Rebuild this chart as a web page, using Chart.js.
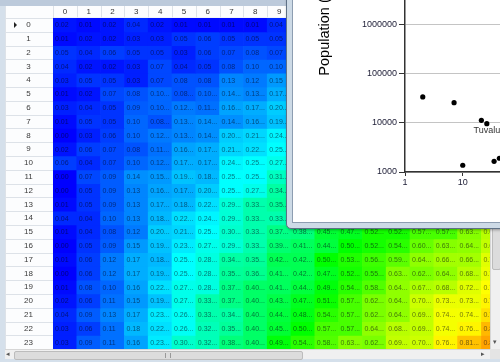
<!DOCTYPE html>
<html>
<head>
<meta charset="utf-8">
<script src="https://cdn.jsdelivr.net/npm/chart.js@4.4.1/dist/chart.umd.min.js"></script>
<style>
  html, body { margin: 0; padding: 0; width: 500px; height: 362px; overflow: hidden; background: #d5e0eb; }
  #topBand { position: absolute; left: 0; top: 0; width: 500px; height: 6px; background: #bccadb; }
  #gridWrap { position: absolute; left: 0; top: 0; width: 510px; height: 350px; }
  #hscroll { position: absolute; left: 5px; top: 349px; width: 485px; height: 10px; background: #f0f0f0; border-top: 1px solid #d6d6d6; box-sizing: border-box; }
  #hthumb { position: absolute; left: 9px; top: 1px; width: 287px; height: 7px; background: #dcdcdc; border: 1px solid #bcbcbc; border-radius: 2px; }
  #hgrip { position: absolute; left: 150px; top: 1px; width: 6px; height: 5px; border-left: 1px solid #999; border-right: 1px solid #999; box-sizing: border-box; }
  .arrow { position: absolute; font: 7px "DejaVu Sans", sans-serif; color: #555; line-height: 8px; }
  #vscroll { position: absolute; left: 490px; top: 0; width: 10px; height: 349px; background: #f0f0f0; border-left: 1px solid #d6d6d6; box-sizing: border-box; }
  #vthumb { position: absolute; left: 1px; top: 150px; width: 9px; height: 120px; background: #dcdcdc; border: 1px solid #bcbcbc; border-radius: 2px; box-sizing: border-box; }
  #corner { position: absolute; left: 490px; top: 349px; width: 10px; height: 10px; background: #e4e4e4; }
  #win { position: absolute; left: 286px; top: -40px; width: 260px; height: 267px; border: 1px solid #5f7186; background: #cddae6;
         border-bottom-left-radius: 5px; box-shadow: 1px 1px 3px rgba(0,0,0,0.35); overflow: hidden; }
  #client { position: absolute; left: 5px; top: 0; right: 0; bottom: 5px; background: #fff;
            border-left: 1px solid #8d9db1; border-bottom: 1px solid #8d9db1; overflow: hidden; }
  #scatter { position: absolute; left: 0; top: -151px; }
</style>
</head>
<body>
<div id="topBand"></div>
<div id="gridWrap"><canvas id="grid" width="510" height="350"></canvas></div>
<div id="hscroll">
  <div class="arrow" style="left:1px;top:0px;">◂</div>
  <div id="hthumb"><div id="hgrip"></div></div>
  <div class="arrow" style="left:476px;top:0px;">▸</div>
</div>
<div id="vscroll">
  <div id="vthumb"></div>
  <div class="arrow" style="left:2px;top:338px;">▾</div>
</div>
<div id="corner"></div>
<div id="win">
  <div id="client"><canvas id="scatter" width="584" height="412"></canvas></div>
</div>

<script>
// ---- grid contents ----
const colLabels = ['0','1','2','3','4','5','6','7','8','9','10','11','12','13','14','15','16','17','18'];
const rowLabels = ['0','1','2','3','4','5','6','7','8','9','10','11','12','13','14','15','16','17','18','19','20','21','22','23'];

const r0  = [0.02, 0.01, 0.02, 0.04, 0.02, 0.01, 0.01, 0.01, 0.01, 0.04];
const r1  = [0.01, 0.02, 0.02, 0.03, 0.03, 0.05, 0.06, 0.05, 0.05, 0.05];
const r2  = [0.05, 0.04, 0.06, 0.05, 0.05, 0.03, 0.06, 0.07, 0.08, 0.07];
const r3  = [0.04, 0.02, 0.02, 0.03, 0.07, 0.04, 0.05, 0.08, 0.10, 0.10];
const r4  = [0.03, 0.05, 0.05, 0.03, 0.07, 0.08, 0.08, 0.13, 0.12, 0.15];
const r5  = [0.01, 0.02, 0.07, 0.08, 0.10, 0.08, 0.10, 0.14, 0.13, 0.17];
const r6  = [0.03, 0.04, 0.05, 0.09, 0.10, 0.12, 0.11, 0.16, 0.17, 0.20];
const r7  = [0.01, 0.05, 0.05, 0.10, 0.08, 0.13, 0.14, 0.14, 0.16, 0.19];
const r8  = [0.00, 0.03, 0.06, 0.10, 0.12, 0.13, 0.14, 0.20, 0.21, 0.24];
const r9  = [0.02, 0.06, 0.07, 0.08, 0.11, 0.16, 0.17, 0.21, 0.22, 0.25];
const r10 = [0.06, 0.04, 0.07, 0.10, 0.12, 0.17, 0.17, 0.24, 0.25, 0.27];
const r11 = [0.00, 0.07, 0.09, 0.14, 0.15, 0.19, 0.18, 0.25, 0.25, 0.31];
const r12 = [0.00, 0.05, 0.09, 0.13, 0.16, 0.17, 0.20, 0.25, 0.27, 0.34];
const r13 = [0.01, 0.05, 0.09, 0.13, 0.17, 0.18, 0.22, 0.29, 0.33, 0.35];
const r14 = [0.04, 0.04, 0.10, 0.13, 0.18, 0.22, 0.24, 0.29, 0.33, 0.33];
const r15 = [0.01, 0.04, 0.08, 0.12, 0.20, 0.21, 0.25, 0.30, 0.33, 0.37, 0.38, 0.45, 0.47, 0.52, 0.52, 0.57, 0.57, 0.63, 0.68];
const r16 = [0.00, 0.05, 0.09, 0.15, 0.19, 0.23, 0.27, 0.29, 0.33, 0.39, 0.41, 0.44, 0.50, 0.52, 0.54, 0.60, 0.63, 0.64, 0.69];
const r17 = [0.01, 0.06, 0.12, 0.17, 0.18, 0.25, 0.28, 0.34, 0.35, 0.42, 0.42, 0.50, 0.53, 0.56, 0.59, 0.64, 0.66, 0.66, 0.72];
const r18 = [0.00, 0.06, 0.12, 0.17, 0.19, 0.25, 0.28, 0.35, 0.36, 0.41, 0.42, 0.47, 0.52, 0.55, 0.63, 0.62, 0.64, 0.68, 0.73];
const r19 = [0.01, 0.08, 0.10, 0.16, 0.22, 0.27, 0.28, 0.37, 0.40, 0.41, 0.44, 0.49, 0.54, 0.58, 0.64, 0.67, 0.68, 0.72, 0.75];
const r20 = [0.02, 0.06, 0.11, 0.15, 0.19, 0.27, 0.33, 0.37, 0.40, 0.43, 0.47, 0.51, 0.57, 0.62, 0.64, 0.70, 0.73, 0.73, 0.76];
const r21 = [0.04, 0.09, 0.13, 0.17, 0.23, 0.26, 0.33, 0.34, 0.40, 0.44, 0.48, 0.54, 0.57, 0.62, 0.64, 0.69, 0.74, 0.74, 0.78];
const r22 = [0.03, 0.06, 0.11, 0.18, 0.22, 0.26, 0.32, 0.35, 0.40, 0.45, 0.50, 0.57, 0.57, 0.64, 0.68, 0.69, 0.74, 0.76, 0.82];
const r23 = [0.03, 0.09, 0.11, 0.16, 0.23, 0.30, 0.32, 0.38, 0.40, 0.49, 0.54, 0.58, 0.63, 0.62, 0.69, 0.70, 0.76, 0.81, 0.84];
const rowValues = [r0, r1, r2, r3, r4, r5, r6, r7, r8, r9, r10, r11, r12, r13, r14, r15, r16, r17, r18, r19, r20, r21, r22, r23];

// ---- scatter contents: area (km²) vs population ----
const areaKm2    = [2.03, 7.07, 21.0, 26.1, 10.0, 34.9, 43.1];
const population = [33400, 25500, 11200, 9560, 1370, 1650, 1900];
const pointNames = ['', '', '', 'Tuvalu', '', '', ''];

const UI_FONT = '"Liberation Sans", Arial, sans-serif';
Chart.defaults.font.family = UI_FONT;

// blue (0) -> cyan -> green -> yellow -> orange (1)
const heatColor = v => `hsl(${240 * (1 - v)}, 100%, 50%)`;
const cellLine = 'rgba(236,241,247,0.8)';

const headerPlugin = {
  id: 'gridHeaders',
  beforeDraw(chart) {
    const { ctx, chartArea: { left, top, right, bottom } } = chart;
    const colW = (right - left) / colLabels.length;
    const rowH = (bottom - top) / rowLabels.length;
    ctx.save();
    ctx.fillStyle = '#fcfdfe';
    ctx.fillRect(5, 6, right - 5, top - 6);
    ctx.fillRect(5, top, left - 5, bottom - top);
    ctx.strokeStyle = '#dde2e8';
    ctx.lineWidth = 1;
    ctx.beginPath();
    for (let i = 0; i <= colLabels.length; i++) {
      const x = Math.round(left + i * colW) + 0.5;
      ctx.moveTo(x, 6); ctx.lineTo(x, top);
    }
    for (let r = 0; r <= rowLabels.length; r++) {
      const y = Math.round(top + r * rowH) + 0.5;
      ctx.moveTo(5, y); ctx.lineTo(left, y);
    }
    ctx.moveTo(5.5, 6); ctx.lineTo(5.5, bottom);
    ctx.stroke();
    // current-row marker
    const cy = top + rowH / 2;
    ctx.fillStyle = '#222';
    ctx.beginPath();
    ctx.moveTo(14, cy - 3); ctx.lineTo(17, cy); ctx.lineTo(14, cy + 3); ctx.closePath();
    ctx.fill();
    ctx.restore();
  },
  afterDatasetsDraw(chart) {
    const { ctx } = chart;
    ctx.save();
    ctx.font = '7px ' + UI_FONT;
    ctx.textBaseline = 'middle';
    ctx.fillStyle = 'rgba(0,0,20,0.55)';
    rowValues.forEach((vals, r) => {
      const meta = chart.getDatasetMeta(r);
      meta.data.forEach((bar, ci) => {
        const v = vals[ci];
        if (v === undefined) return;
        const p = bar.getProps(['x', 'y', 'base', 'width'], true);
        const x0 = p.x - p.width / 2;
        const y0 = Math.min(p.y, p.base), h = Math.abs(p.base - p.y);
        const text = v.toFixed(2) + (ci >= 4 && r >= 5 ? '...' : '');
        ctx.save();
        ctx.beginPath(); ctx.rect(x0, y0, p.width - 1, h); ctx.clip();
        ctx.fillText(text, x0 + 2, y0 + h / 2 + 0.5);
        ctx.restore();
      });
    });
    ctx.restore();
  }
};

new Chart(document.getElementById('grid'), {
  type: 'bar',
  data: {
    labels: colLabels,
    datasets: rowValues.map((vals, r) => ({
      label: rowLabels[r],
      data: colLabels.map((c, ci) => vals[ci] === undefined ? null : [r, r + 1]),
      backgroundColor: colLabels.map((c, ci) => vals[ci] === undefined ? 'rgba(0,0,0,0)' : heatColor(vals[ci])),
      borderWidth: 0,
      grouped: false,
      categoryPercentage: 1,
      barPercentage: 1,
      xAxisID: 'x',
      yAxisID: 'y'
    }))
  },
  options: {
    responsive: false,
    animation: false,
    events: [],
    layout: { padding: { left: 5, top: 6, right: 4.8, bottom: 0.8 } },
    plugins: { legend: { display: false }, tooltip: { enabled: false } },
    scales: {
      x: {
        type: 'category', labels: colLabels, position: 'top', offset: true, z: 1,
        grid: { offset: true, color: cellLine, drawTicks: false },
        border: { color: cellLine },
        ticks: { padding: 1, autoSkip: false, maxRotation: 0, color: '#333', font: { size: 8 } },
        afterFit: s => { s.height = 12; s.paddingLeft = 0; s.paddingRight = 0; }
      },
      y: { type: 'linear', min: 0, max: 24, reverse: true, display: false },
      rows: {
        type: 'category', labels: rowLabels, position: 'left', offset: true, z: 1,
        grid: { offset: true, color: cellLine, drawTicks: false },
        border: { color: cellLine },
        ticks: { crossAlign: 'center', padding: 20, autoSkip: false, color: '#3a3a3a', font: { size: 8 } },
        afterFit: s => { s.width = 48; s.paddingTop = 0; s.paddingBottom = 0; }
      }
    }
  },
  plugins: [headerPlugin]
});

// ---- scatter window ----
const keepDecades = scale => {
  scale.ticks = scale.ticks.filter(t => {
    const e = Math.log10(t.value);
    return Math.abs(e - Math.round(e)) < 1e-6;
  });
};

const nameLabels = {
  id: 'nameLabels',
  afterDatasetsDraw(chart) {
    const { ctx } = chart;
    const meta = chart.getDatasetMeta(0);
    ctx.save();
    ctx.font = '9px ' + UI_FONT;
    ctx.fillStyle = '#333';
    ctx.textAlign = 'center';
    ctx.textBaseline = 'top';
    meta.data.forEach((pt, i) => {
      if (!pointNames[i]) return;
      ctx.fillText(pointNames[i], pt.x, pt.y + 2);
    });
    ctx.restore();
  }
};

new Chart(document.getElementById('scatter'), {
  type: 'scatter',
  data: {
    datasets: [{
      data: areaKm2.map((a, i) => ({ x: a, y: population[i] })),
      backgroundColor: '#000',
      borderWidth: 0,
      pointRadius: 2.6
    }]
  },
  options: {
    responsive: false,
    animation: false,
    events: [],
    layout: { padding: { left: 0, top: 17, right: 10, bottom: 0 } },
    plugins: { legend: { display: false }, tooltip: { enabled: false } },
    scales: {
      x: {
        type: 'logarithmic', min: 1, max: 1e8,
        afterBuildTicks: keepDecades,
        afterFit: s => { s.height = 50; s.paddingLeft = 0; s.paddingRight = 0; },
        grid: { drawOnChartArea: false, tickLength: 4, tickColor: '#333' },
        border: { color: '#333', width: 1.5 },
        ticks: { padding: 1, autoSkip: false, maxRotation: 0, color: '#22223a', font: { size: 9 }, callback: v => String(v) }
      },
      y: {
        type: 'logarithmic', min: 1e3, max: 1e10,
        afterBuildTicks: keepDecades,
        afterFit: s => { s.width = 112; s.paddingTop = 0; s.paddingBottom = 0; },
        grid: { color: '#c4c4c4', tickColor: '#333', tickLength: 6 },
        border: { color: '#333', width: 1.5 },
        ticks: { padding: 2, autoSkip: false, color: '#22223a', font: { size: 9 }, callback: v => String(v) },
        title: { display: true, text: 'Population (logarithmic)', color: '#000', font: { size: 14.5 }, padding: { top: 23, bottom: 0 } }
      }
    }
  },
  plugins: [nameLabels]
});
</script>
</body>
</html>
